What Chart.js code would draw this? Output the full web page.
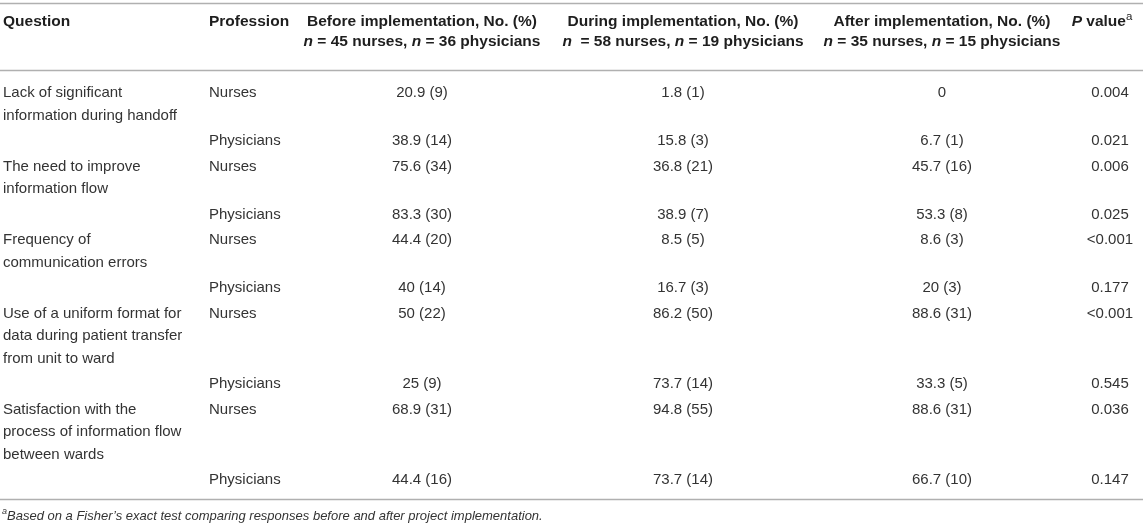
<!DOCTYPE html>
<html>
<head>
<meta charset="utf-8">
<title>Handoff survey table</title>
<script src="https://cdn.jsdelivr.net/npm/chart.js@4.4.1/dist/chart.umd.min.js"></script>
<style>
  html, body { margin: 0; padding: 0; background: #fff; }
  #wrap { width: 1143px; height: 528px; position: relative; }
</style>
</head>
<body>
<div id="wrap"><canvas id="table"></canvas></div>
<script>
// --- data -------------------------------------------------------------
const questions = [
  ['Lack of significant', 'information during handoff'],
  ['The need to improve', 'information flow'],
  ['Frequency of', 'communication errors'],
  ['Use of a uniform format for', 'data during patient transfer', 'from unit to ward'],
  ['Satisfaction with the', 'process of information flow', 'between wards']
];
const professions = ['Nurses', 'Physicians'];

// percent and count, one entry per row (nurses, physicians, nurses, ...)
const beforePct = [20.9, 38.9, 75.6, 83.3, 44.4, 40, 50, 25, 68.9, 44.4];
const beforeN   = [9, 14, 34, 30, 20, 14, 22, 9, 31, 16];
const duringPct = [1.8, 15.8, 36.8, 38.9, 8.5, 16.7, 86.2, 73.7, 94.8, 73.7];
const duringN   = [1, 3, 21, 7, 5, 3, 50, 14, 55, 14];
const afterPct  = [0, 6.7, 45.7, 53.3, 8.6, 20, 88.6, 33.3, 88.6, 66.7];
const afterN    = [null, 1, 16, 8, 3, 3, 31, 5, 31, 10];
const pValues   = ['0.004', '0.021', '0.006', '0.025', '<0.001', '0.177', '<0.001', '0.545', '0.036', '0.147'];

const footnote = 'Based on a Fisher\u2019s exact test comparing responses before and after project implementation.';

// --- layout -----------------------------------------------------------
const W = 1143, H = 528;
const FONT = '"Liberation Sans", Arial, Helvetica, sans-serif';
const LINE = 22.5, PAD = 3, BODY_TOP = 93;

const cols = {
  question:   { x: 3,    align: 'left' },
  profession: { x: 209,  align: 'left' },
  before:     { x: 422,  align: 'center' },
  during:     { x: 683,  align: 'center' },
  after:      { x: 942,  align: 'center' },
  p:          { x: 1110, align: 'center' }
};

const fmt = (pct, n) => (n === null ? String(pct) : pct + ' (' + n + ')');

// row positions follow from how many lines each question needs
const rowY = [];
const questionLines = [];
let cursor = BODY_TOP;
questions.forEach(q => {
  rowY.push(cursor);
  q.forEach((line, k) => questionLines.push({ text: line, y: cursor + k * LINE }));
  cursor += q.length * LINE + PAD;
  rowY.push(cursor);
  cursor += LINE + PAD;
});
const lastRow = rowY[rowY.length - 1];
const rules = [3, 70, lastRow + 19];

const textSet = (col, items) => ({
  col: col,
  data: items.map(it => ({ x: cols[col].x, y: it.y, text: it.text })),
  pointRadius: 0,
  pointHoverRadius: 0
});

const rowItems = (arr) => arr.map((t, i) => ({ text: t, y: rowY[i] }));

const datasets = [
  textSet('question', questionLines),
  textSet('profession', rowY.map((y, i) => ({ text: professions[i % 2], y: y }))),
  textSet('before', rowItems(beforePct.map((v, i) => fmt(v, beforeN[i])))),
  textSet('during', rowItems(duringPct.map((v, i) => fmt(v, duringN[i])))),
  textSet('after', rowItems(afterPct.map((v, i) => fmt(v, afterN[i])))),
  textSet('p', rowItems(pValues))
];

// header runs: [text, font style, superscript?]
const header = [
  { x: cols.question.x, align: 'left', y: 22, runs: [['Question', 'bold']] },
  { x: cols.profession.x, align: 'left', y: 22, runs: [['Profession', 'bold']] },
  { x: cols.before.x, align: 'center', y: 22, runs: [['Before implementation, No. (%)', 'bold']] },
  { x: cols.before.x, align: 'center', y: 42, runs: [['n', 'italic bold'], [' = 45 nurses, ', 'bold'], ['n', 'italic bold'], [' = 36 physicians', 'bold']] },
  { x: cols.during.x, align: 'center', y: 22, runs: [['During implementation, No. (%)', 'bold']] },
  { x: cols.during.x, align: 'center', y: 42, runs: [['n', 'italic bold'], ['  = 58 nurses, ', 'bold'], ['n', 'italic bold'], [' = 19 physicians', 'bold']] },
  { x: cols.after.x, align: 'center', y: 22, runs: [['After implementation, No. (%)', 'bold']] },
  { x: cols.after.x, align: 'center', y: 42, runs: [['n', 'italic bold'], [' = 35 nurses, ', 'bold'], ['n', 'italic bold'], [' = 15 physicians', 'bold']] },
  { x: cols.p.x - 8, align: 'center', y: 22, runs: [['P', 'italic bold'], [' value', 'bold'], ['a', '', true]] }
];

function drawRuns(ctx, xs, ys, item, size, color) {
  const fontOf = (r) => (r[2] ? (r[1] + ' ' + (size - 4) + 'px ' + FONT) : (r[1] + ' ' + size + 'px ' + FONT)).trim();
  let total = 0;
  item.runs.forEach(r => { ctx.font = fontOf(r); total += ctx.measureText(r[0]).width; });
  let x = item.align === 'center' ? xs - total / 2 : xs;
  ctx.fillStyle = color;
  ctx.textAlign = 'left';
  ctx.textBaseline = 'middle';
  item.runs.forEach(r => {
    ctx.font = fontOf(r);
    ctx.fillText(r[0], x, r[2] ? ys - 5 : ys);
    x += ctx.measureText(r[0]).width;
  });
}

const tablePlugin = {
  id: 'tableText',
  afterDatasetsDraw(chart) {
    const ctx = chart.ctx;
    const xs = chart.scales.x, ys = chart.scales.y;
    ctx.save();

    // rules
    ctx.strokeStyle = '#b0b0b0';
    ctx.lineWidth = 1.5;
    rules.forEach(v => {
      const py = Math.round(ys.getPixelForValue(v)) + 0.5;
      ctx.beginPath();
      ctx.moveTo(xs.getPixelForValue(0), py);
      ctx.lineTo(xs.getPixelForValue(W), py);
      ctx.stroke();
    });

    // header
    header.forEach(h => drawRuns(ctx, xs.getPixelForValue(h.x), ys.getPixelForValue(h.y), h, 15.5, '#1e1e1e'));

    // body cells
    ctx.font = '15px ' + FONT;
    ctx.fillStyle = '#333';
    ctx.textBaseline = 'middle';
    chart.data.datasets.forEach((ds, di) => {
      const meta = chart.getDatasetMeta(di);
      ctx.textAlign = cols[ds.col].align;
      meta.data.forEach((pt, i) => ctx.fillText(ds.data[i].text, pt.x, pt.y));
    });

    // footnote
    drawRuns(ctx, xs.getPixelForValue(2), ys.getPixelForValue(lastRow + 36),
      { align: 'left', runs: [['a', 'italic', true], [footnote, 'italic']] }, 13, '#333');
    ctx.restore();
  }
};

new Chart(document.getElementById('table'), {
  type: 'scatter',
  data: { datasets: datasets },
  options: {
    responsive: true,
    maintainAspectRatio: false,
    animation: false,
    events: [],
    layout: { padding: 0 },
    scales: {
      x: { type: 'linear', min: 0, max: W, display: false },
      y: { type: 'linear', min: 0, max: H, reverse: true, display: false }
    },
    plugins: {
      legend: { display: false },
      tooltip: { enabled: false }
    }
  },
  plugins: [tablePlugin]
});
</script>
</body>
</html>
